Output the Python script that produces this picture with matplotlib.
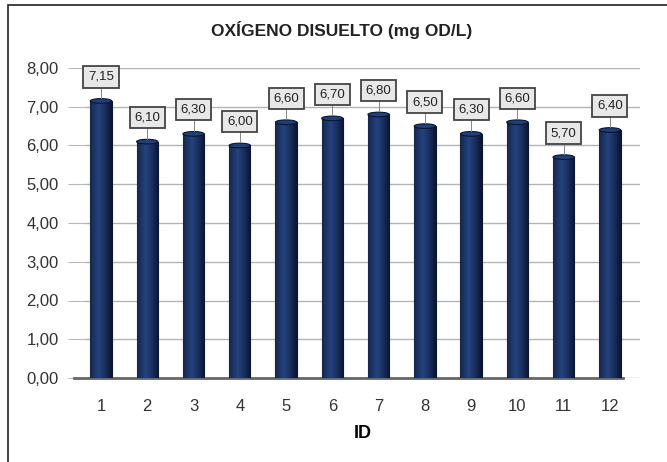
import matplotlib.pyplot as plt
import numpy as np
from matplotlib.patches import Rectangle, Ellipse

ids = [1, 2, 3, 4, 5, 6, 7, 8, 9, 10, 11, 12]
od = [7.15, 6.10, 6.30, 6.00, 6.60, 6.70, 6.80, 6.50, 6.30, 6.60, 5.70, 6.40]
yticks = [0, 1, 2, 3, 4, 5, 6, 7, 8]

plt.rcParams['font.family'] = ['Liberation Sans', 'DejaVu Sans']

W, H = 667, 462
fig = plt.figure(figsize=(W / 100, H / 100), dpi=100)
fig.patch.set_facecolor('white')

# outer frame
fig.add_artist(Rectangle((8 / W, -0.01), 1.0, 1 - 5 / H + 0.01, transform=fig.transFigure,
                         fill=False, edgecolor='#222222', linewidth=1.2))

# axes placed in pixels: left 85, right 640, y=0 at 378, y=8 at 68
ax = fig.add_axes([85 / W, (H - 378) / H, (640 - 85) / W, (378 - 68) / H])
for s in ax.spines.values():
    s.set_visible(False)

ax.set_yticks(yticks)
ax.set_yticklabels([f"{t:.2f}".replace('.', ',') for t in yticks], fontsize=12, color='#333333')
ax.set_xticks(ids)
ax.set_xticklabels([str(i) for i in ids], fontsize=12, color='#333333')
ax.tick_params(axis='x', length=0, pad=15)
ax.tick_params(axis='y', length=12, width=0.8, color='#b8b8b8', pad=7)
ax.yaxis.grid(True, color='#b4b4b4', linewidth=1.0)
ax.set_axisbelow(True)
ax.axhline(0, color='#666666', linewidth=2, xmin=-0.02, xmax=0.97, clip_on=False, zorder=1)

# cylinder-like bars with horizontal gradient
bw = 0.46
grad = np.linspace(0, 1, 64)
shade = 1 - np.abs(grad - 0.4) / 0.6
cmap = plt.matplotlib.colors.LinearSegmentedColormap.from_list(
    'cyl', ['#0a1530', '#182e5c', '#25437d'])
bars = ax.bar(ids, od, width=bw, color='#182e5c', edgecolor='#0a1530', linewidth=0.8, zorder=2)
for b, v in zip(bars, od):
    x0 = b.get_x()
    im = ax.imshow(shade[np.newaxis, :], extent=[x0, x0 + bw, 0, v], aspect='auto',
                   cmap=cmap, vmin=0, vmax=1, zorder=3)
    im.set_clip_path(b)
    ax.add_patch(Ellipse((x0 + bw / 2, v), bw, 0.12, facecolor='#223f78',
                         edgecolor='#0a1530', linewidth=0.8, zorder=4))
    ax.plot([x0 + bw / 2, x0 + bw / 2], [v + 0.08, v + 0.42], color='#888888', linewidth=0.7, zorder=4)
    ax.text(x0 + bw / 2, v + 0.62, f"{v:.2f}".replace('.', ','), ha='center', va='center',
            fontsize=9.5, color='#222222', zorder=5,
            bbox=dict(boxstyle='square,pad=0.35', facecolor='#e8e8e8', edgecolor='#444444', linewidth=1.3))
ax.set_xlim(0.654, 12.65)
ax.set_ylim(0, 8)

ax.set_xlabel('ID', fontsize=13, fontweight='bold', labelpad=8)
fig.text(342 / W, 1 - 30 / H, 'OXÍGENO DISUELTO (mg OD/L)', ha='center', va='center',
         fontsize=12.5, fontweight='bold', color='#222222')

fig.savefig('out.png', dpi=100)
